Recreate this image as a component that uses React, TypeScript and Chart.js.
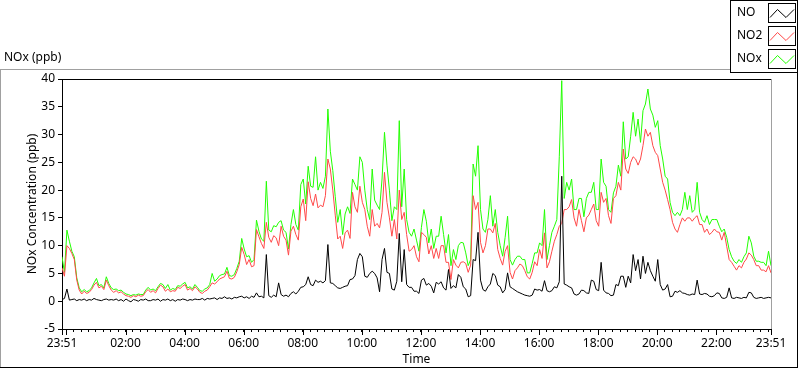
import React, { useEffect, useRef } from 'react';
import { Chart, registerables } from 'chart.js';

Chart.register(...registerables);

// Sampling interval of the series (minutes after 23:51)
const SAMPLE_STEP_MIN = 5;

// NO2 (ppb), one value every 5 minutes from 23:51 to 23:51
const NO2_VALUES = [
  6.0, 4.5, 10.0, 9.5, 8.6, 7.5, 3.8, 2.0, 1.3, 1.8, 1.4, 1.6,
  2.1, 2.9, 3.4, 2.4, 2.7, 2.1, 3.8, 2.8, 2.0, 1.6, 1.9, 1.5,
  1.7, 1.3, 1.0, 0.9, 0.7, 1.0, 0.8, 1.1, 0.9, 1.0, 1.7, 2.1,
  1.6, 1.9, 1.5, 2.3, 2.9, 2.6, 1.8, 2.2, 1.7, 1.9, 1.8, 2.5,
  2.3, 2.7, 3.0, 2.0, 2.3, 1.9, 2.6, 2.2, 1.6, 1.4, 1.8, 2.0,
  2.6, 3.3, 3.1, 3.5, 4.0, 4.2, 4.4, 5.4, 4.1, 4.0, 4.3, 5.3,
  6.6, 9.7, 8.4, 6.6, 7.5, 6.2, 6.4, 12.9, 11.6, 10.4, 9.5, 14.2,
  11.5, 10.6, 11.8, 11.4, 10.0, 13.5, 11.7, 11.0, 8.3, 12.6, 13.5, 12.0,
  11.0, 17.0, 18.4, 14.5, 21.5, 18.5, 17.2, 19.3, 16.8, 17.3, 17.0, 19.0,
  25.6, 23.8, 20.0, 15.5, 11.2, 11.7, 9.5, 12.3, 12.8, 11.3, 19.6, 17.0,
  16.0, 20.7, 17.8, 16.5, 13.5, 11.7, 16.5, 13.5, 14.0, 13.2, 16.0, 23.2,
  17.8, 15.0, 11.7, 14.7, 11.2, 20.0, 14.7, 16.0, 12.0, 9.0, 9.3, 10.0,
  8.0, 7.1, 12.4, 12.0, 11.5, 8.5, 10.0, 7.7, 9.5, 7.7, 10.0, 10.0,
  7.0, 7.0, 3.9, 7.5, 6.5, 6.0, 7.0, 7.1, 6.8, 5.2, 6.5, 19.0,
  16.5, 17.8, 10.6, 8.7, 10.0, 13.0, 13.0, 12.3, 14.0, 9.3, 7.7, 6.5,
  9.0, 10.0, 5.2, 4.0, 5.5, 6.0, 6.7, 6.4, 5.5, 4.4, 4.0, 5.2,
  7.1, 6.4, 9.3, 7.7, 12.3, 6.0, 7.1, 9.0, 10.8, 12.0, 13.5, 14.0,
  16.5, 16.5, 17.0, 18.3, 15.0, 13.5, 16.5, 14.5, 12.5, 15.0, 15.5, 16.5,
  17.5, 14.5, 13.5, 19.6, 17.8, 18.5, 15.4, 14.0, 18.5, 19.0, 21.4, 20.0,
  27.4, 23.8, 23.0, 25.0, 26.0, 25.6, 24.5, 25.6, 28.0, 31.0, 29.7, 30.4,
  28.0, 26.8, 26.2, 23.8, 21.4, 20.0, 18.3, 16.5, 14.2, 13.0, 12.4, 13.8,
  15.0, 14.4, 15.0, 15.0, 14.4, 15.0, 15.4, 13.8, 13.8, 12.4, 13.0, 12.0,
  12.4, 13.0, 12.5, 12.4, 11.0, 12.4, 9.9, 7.5, 7.0, 6.3, 5.6, 6.4,
  6.0, 7.0, 7.6, 8.7, 8.3, 7.5, 6.4, 6.4, 5.6, 5.6, 5.3, 6.4, 5.1,
];

// NOx (ppb)
const NOX_VALUES = [
  8.0, 5.2, 12.8, 10.8, 9.0, 8.0, 4.2, 2.4, 1.7, 2.1, 1.7, 1.9,
  2.4, 3.3, 4.1, 2.8, 3.0, 2.4, 4.4, 3.2, 2.4, 2.1, 2.2, 1.9,
  2.0, 1.6, 1.3, 1.2, 1.0, 1.2, 1.1, 1.3, 1.2, 1.2, 2.0, 2.5,
  2.0, 2.2, 1.9, 2.6, 3.2, 3.0, 2.3, 3.0, 2.0, 2.3, 2.1, 2.8,
  2.7, 3.1, 3.4, 2.4, 2.6, 2.2, 3.0, 2.5, 1.9, 1.8, 2.2, 2.4,
  3.0, 5.0, 3.6, 4.0, 4.6, 4.8, 4.9, 6.1, 4.6, 4.5, 4.8, 5.9,
  7.2, 11.3, 9.4, 8.0, 8.2, 7.0, 7.5, 14.6, 12.6, 11.2, 10.8, 21.6,
  12.8, 12.5, 13.6, 13.4, 14.2, 14.5, 12.8, 12.4, 9.4, 13.8, 16.5, 13.8,
  12.8, 21.0, 22.0, 17.5, 24.3, 20.7, 20.5, 26.0, 20.0, 21.4, 20.3, 22.5,
  34.6, 27.0, 23.5, 18.8, 14.2, 16.5, 12.0, 15.7, 17.0, 15.8, 22.0, 21.0,
  20.0, 26.0, 25.0, 20.0, 16.5, 14.7, 23.8, 18.2, 17.3, 16.5, 22.0, 30.4,
  24.5, 20.0, 14.5, 17.0, 16.5, 32.5, 17.0, 23.8, 14.7, 12.4, 11.7, 13.0,
  11.0, 9.0, 13.3, 16.5, 14.4, 10.5, 13.0, 9.5, 11.7, 11.7, 15.3, 12.0,
  8.7, 12.0, 6.4, 9.3, 7.5, 10.0, 10.6, 10.5, 8.7, 6.4, 7.5, 24.7,
  22.5, 28.0, 16.5, 13.0, 12.4, 14.7, 19.0, 13.5, 16.5, 12.4, 10.0, 8.1,
  11.5, 15.3, 7.5, 6.5, 7.5, 8.1, 8.1, 7.5, 7.5, 5.1, 5.1, 6.8,
  8.7, 8.7, 10.5, 10.0, 16.5, 7.5, 10.0, 12.4, 13.5, 14.7, 26.0, 39.7,
  18.5, 21.4, 20.0, 22.0, 16.5, 16.5, 18.5, 18.5, 15.2, 18.5, 19.6, 19.6,
  21.4, 16.5, 16.5, 25.6, 21.4, 20.7, 16.5, 16.0, 19.5, 20.7, 24.5, 22.5,
  32.3, 25.6, 26.0, 29.7, 34.0, 29.7, 32.8, 28.6, 34.3, 35.5, 38.2, 34.6,
  33.5, 31.3, 32.5, 28.0, 25.6, 22.5, 22.0, 17.8, 16.0, 15.4, 16.0, 15.4,
  16.5, 19.6, 16.5, 19.0, 16.0, 16.5, 21.4, 16.0, 14.7, 14.2, 15.4, 13.8,
  14.7, 14.7, 14.7, 13.5, 12.5, 13.0, 11.5, 9.3, 8.0, 7.2, 6.8, 7.5,
  7.0, 8.0, 8.7, 11.7, 10.5, 8.1, 7.2, 7.2, 7.0, 7.0, 6.4, 9.0, 6.4,
];

// NO (ppb)
const NO_VALUES = [
  0.3, 0.5, 2.2, 0.2, 0.3, 0.4, 0.1, 0.3, 0.2, 0.4, 0.1, 0.3,
  0.2, 0.5, 0.3, 0.2, 0.1, 0.3, 0.4, 0.2, 0.3, 0.2, 0.4, 0.1,
  0.3, 0.0, 0.4, 0.1, -0.1, 0.3, 0.2, 0.0, 0.3, 0.2, 0.4, 0.1,
  0.1, 0.3, 0.2, 0.4, 0.0, 0.3, 0.2, 0.4, 0.1, 0.3, 0.0, 0.3,
  0.2, 0.4, 0.3, 0.1, 0.3, 0.2, 0.4, 0.3, 0.3, 0.5, 0.2, 0.5,
  0.4, 0.5, 0.6, 0.3, 0.6, 0.5, 0.8, 0.5, 0.6, 0.4, 0.7, 0.6,
  0.8, 0.9, 0.6, 0.8, 0.5, 0.9, 0.7, 1.5, 0.8, 0.9, 0.6, 8.4,
  1.0, 0.7, 1.1, 0.8, 3.3, 1.2, 0.9, 1.1, 0.8, 1.4, 1.7, 1.3,
  1.8, 2.5, 2.6, 3.0, 4.4, 3.0, 2.8, 3.8, 3.4, 3.6, 3.3, 3.7,
  10.2, 3.3, 3.2, 2.8, 2.4, 2.3, 2.5, 2.7, 2.8, 3.9, 4.0, 4.6,
  7.5, 8.6, 8.0, 4.5, 4.3, 5.0, 5.4, 5.0, 4.2, 1.7, 7.5, 9.5,
  5.2, 5.0, 2.2, 2.0, 3.6, 12.2, 3.5, 9.3, 3.0, 2.5, 2.5, 1.8,
  1.8, 1.4, 3.8, 4.1, 2.9, 3.2, 2.7, 1.5, 3.4, 3.1, 3.5, 2.4,
  2.0, 5.7, 2.3, 2.8, 2.4, 4.8, 4.3, 2.6, 2.2, 0.8, 1.0, 7.5,
  7.3, 12.4, 3.8, 2.1, 1.8, 2.6, 3.1, 5.0, 4.6, 2.9, 2.6, 1.5,
  2.1, 5.1, 2.6, 2.3, 2.0, 1.7, 1.5, 1.3, 1.1, 1.0, 0.9, 1.1,
  2.2, 2.0, 2.1, 1.8, 3.7, 1.9, 1.7, 1.9, 2.6, 2.4, 3.5, 22.5,
  3.1, 2.9, 2.6, 2.4, 1.3, 1.1, 1.3, 2.0, 1.9, 1.5, 1.4, 3.8,
  3.6, 2.1, 1.9, 7.0, 2.0, 1.5, 1.4, 1.0, 1.1, 3.0, 2.8, 4.5,
  4.5, 2.5, 4.5, 3.3, 8.4, 5.5, 7.5, 4.0, 8.1, 5.0, 7.0, 5.5,
  4.5, 3.6, 7.5, 3.0, 2.0, 2.2, 3.0, 0.8, 0.9, 1.8, 1.6, 1.9,
  1.5, 1.4, 1.2, 1.1, 1.3, 1.2, 3.8, 1.3, 1.2, 1.4, 1.3, 0.9,
  0.8, 1.0, 1.5, 1.4, 0.6, 0.5, 0.7, 2.4, 0.6, 0.5, 0.7, 0.6,
  0.5, 0.7, 0.6, 1.6, 1.5, 0.7, 0.5, 0.6, 0.7, 0.5, 0.6, 0.7, 0.6,
];

const SERIES_NAMES = ['NO', 'NO2', 'NOx'];
const SERIES_COLORS = ['#000000', '#ff4848', '#22ff00'];

// X axis: minutes after 23:51
const X_MIN = 0;
const X_MAX = 1440;
const X_LABEL_MINUTES = [0, 129, 249, 369, 489, 609, 729, 849, 969, 1089, 1209, 1329, 1440];
const X_LABELS = ['23:51', '02:00', '04:00', '06:00', '08:00', '10:00', '12:00', '14:00', '16:00', '18:00', '20:00', '22:00', '23:51'];
const X_MAJOR_MINUTES = [0, 9, 129, 249, 369, 489, 609, 729, 849, 969, 1089, 1209, 1329, 1440];
const X_MINOR_START = 9;
const X_MINOR_STEP = 15;

// Y axis
const Y_MIN = -5;
const Y_MAX = 40;
const Y_STEP = 5;

const FONT = '"Noto Sans", "DejaVu Sans", sans-serif';

function toPoints(values: number[]) {
  return values.map((v, i) => ({ x: i * SAMPLE_STEP_MIN, y: v }));
}

const decorPlugin = {
  id: 'decor',
  afterDraw(chart: any) {
    const ctx = chart.ctx as CanvasRenderingContext2D;
    const { left, top, right, bottom } = chart.chartArea;
    const line = (x1: number, y1: number, x2: number, y2: number) => {
      ctx.beginPath();
      ctx.moveTo(x1, y1);
      ctx.lineTo(x2, y2);
      ctx.stroke();
    };
    ctx.save();
    ctx.lineWidth = 1;

    // outer frame
    ctx.strokeStyle = '#a0a0a0';
    line(0, 69.5, 730, 69.5);
    line(0.5, 69.5, 0.5, 368);
    ctx.strokeStyle = '#000';
    line(0, 367.5, 798, 367.5);
    line(797.5, 72, 797.5, 368);

    // plot frame
    ctx.strokeStyle = '#000';
    line(Math.floor(left), top + 0.5, Math.floor(right) + 1, top + 0.5);
    ctx.strokeStyle = '#a0a0a0';
    line(Math.floor(right) + 0.5, top, Math.floor(right) + 0.5, bottom + 1);

    // major x ticks (longer)
    const xs = chart.scales.x;
    ctx.strokeStyle = '#000';
    X_MAJOR_MINUTES.forEach((m) => {
      const px = Math.round(xs.getPixelForValue(m)) + 0.5;
      line(px, bottom, px, bottom + 6);
    });

    // texts
    ctx.fillStyle = '#000';
    ctx.font = `12px ${FONT}`;
    ctx.textBaseline = 'middle';
    ctx.textAlign = 'left';
    ctx.fillText('NOx (ppb)', 4, 58);

    ctx.textAlign = 'center';
    ctx.fillText('Time', (left + right) / 2, 360);

    ctx.save();
    ctx.translate(33, (top + bottom) / 2);
    ctx.rotate(-Math.PI / 2);
    ctx.fillText('NOx Concentration (ppb)', 0, 0);
    ctx.restore();

    // legend
    ctx.fillStyle = '#fff';
    ctx.fillRect(731, 0, 67, 72);
    ctx.strokeStyle = '#000';
    ctx.strokeRect(730.5, 0.5, 67, 72);
    SERIES_NAMES.forEach((name, i) => {
      const ty = 13 + i * 23;
      ctx.fillStyle = '#000';
      ctx.textAlign = 'left';
      ctx.fillText(name, 737, ty);
      const bx = 768.5;
      const by = 3.5 + i * 23;
      ctx.strokeStyle = '#000';
      ctx.strokeRect(bx, by, 27, 19);
      ctx.strokeStyle = SERIES_COLORS[i];
      ctx.beginPath();
      ctx.moveTo(bx + 1.5, by + 14);
      ctx.lineTo(bx + 9, by + 6);
      ctx.lineTo(bx + 17.5, by + 14);
      ctx.lineTo(bx + 25.5, by + 6);
      ctx.stroke();
    });

    ctx.restore();
  },
};

export default function App() {
  const canvasRef = useRef<HTMLCanvasElement | null>(null);

  useEffect(() => {
    const canvas = canvasRef.current;
    if (!canvas) return;
    const seriesValues = [NO_VALUES, NO2_VALUES, NOX_VALUES];
    const chart = new Chart(canvas, {
      type: 'line',
      data: {
        datasets: SERIES_NAMES.map((name, i) => ({
          label: name,
          data: toPoints(seriesValues[i]),
          borderColor: SERIES_COLORS[i],
          backgroundColor: SERIES_COLORS[i],
          borderWidth: 1,
          pointRadius: 0,
          tension: 0,
          fill: false,
        })),
      },
      options: {
        animation: false,
        responsive: false,
        maintainAspectRatio: false,
        layout: { padding: { left: 0, top: 79, right: 29, bottom: 0 } },
        plugins: {
          legend: { display: false },
          tooltip: { enabled: false },
          title: { display: false },
        },
        scales: {
          x: {
            type: 'linear',
            min: X_MIN,
            max: X_MAX,
            afterBuildTicks: (scale: any) => {
              const vals = new Set<number>([X_MIN, X_MAX]);
              for (let m = X_MINOR_START; m <= X_MAX; m += X_MINOR_STEP) vals.add(m);
              scale.ticks = Array.from(vals).sort((a, b) => a - b).map((v) => ({ value: v }));
            },
            afterFit: (scale: any) => { scale.height = 40; },
            ticks: {
              autoSkip: false,
              maxRotation: 0,
              minRotation: 0,
              padding: 4,
              color: '#000',
              font: { family: FONT, size: 12 },
              callback: (value: any) => {
                const idx = X_LABEL_MINUTES.indexOf(Number(value));
                return idx >= 0 ? X_LABELS[idx] : '';
              },
            },
            grid: { display: true, drawOnChartArea: false, drawTicks: true, tickLength: 3, color: '#000' },
            border: { display: true, color: '#000' },
          },
          y: {
            type: 'linear',
            min: Y_MIN,
            max: Y_MAX,
            afterFit: (scale: any) => { scale.width = 62; },
            ticks: {
              stepSize: Y_STEP,
              padding: 3,
              color: '#000',
              font: { family: FONT, size: 12 },
            },
            grid: { display: true, drawOnChartArea: false, drawTicks: true, tickLength: 4, color: '#000' },
            border: { display: true, color: '#000' },
          },
        },
      },
      plugins: [decorPlugin],
    } as any);
    return () => chart.destroy();
  }, []);

  return (
    <div style={{ position: 'absolute', left: 0, top: 0, width: 800, height: 369, background: '#fff' }}>
      <canvas ref={canvasRef} width={800} height={369} style={{ display: 'block', width: 800, height: 369 }} />
    </div>
  );
}
